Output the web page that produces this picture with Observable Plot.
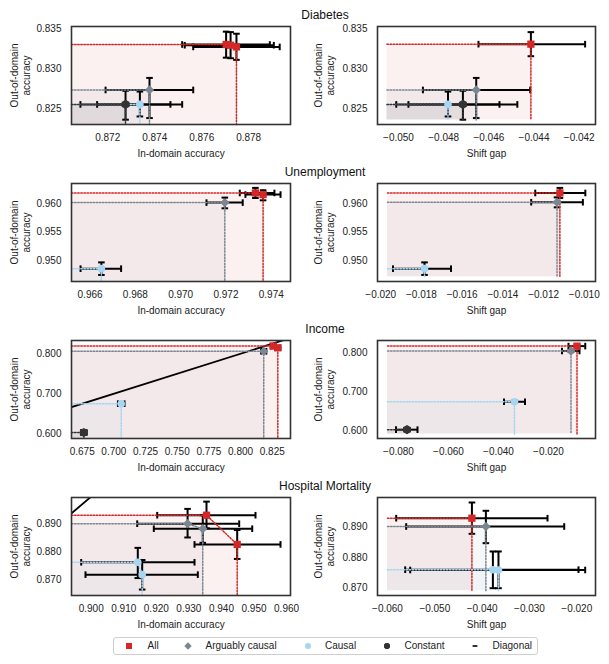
<!DOCTYPE html>
<html>
<head>
<meta charset="utf-8">
<script src="https://cdn.jsdelivr.net/npm/d3@7"></script>
<script src="https://cdn.jsdelivr.net/npm/@observablehq/plot@0.6"></script>
<style>
  html, body { margin: 0; background: #fff; font-family: "Liberation Sans", Arial, Helvetica, sans-serif; }
  #wrap { width: 609px; height: 664px; padding-top: 5px; box-sizing: border-box; }
  .title { width: 609px; box-sizing: border-box; padding-left: 41px; height: 20px; line-height: 20px;
           font-size: 12px; color: #111; text-align: center; }
  .row { display: flex; height: 137px; }
  .row svg { display: block; }
  .legend { position: relative; margin-left: 113px; margin-top: 4px; width: 425px; height: 18px; box-sizing: border-box;
            border: 1px solid #cfcfcf; border-radius: 3px; font-size: 10px; color: #222; }
  .legend .mk { position: absolute; top: 3px; width: 10px; height: 10px; }
  .legend .lb { position: absolute; top: 0; line-height: 16px; white-space: nowrap; }
</style>
</head>
<body>
<div id="wrap"></div>
<script>
// ---------- data ----------
const groups = ["All", "Arguably causal", "Causal", "Constant"];
const rowTitles = ["Diabetes", "Unemployment", "Income", "Hospital Mortality"];
const xLabels = ["In-domain accuracy", "Shift gap"];
const yLabel = "Out-of-domain\naccuracy";
const legendLabels = ["All", "Arguably causal", "Causal", "Constant", "Diagonal"];

// rows: [group, x, xLow, xHigh, y, yLow, yHigh]
const diabetesInDomain = [
  ["All", 0.87704, 0.87517, 0.87890, 0.83306, 0.83142, 0.83466],
  ["All", 0.87723, 0.87528, 0.87907, 0.83297, 0.83135, 0.83460],
  ["All", 0.87748, 0.87564, 0.87932, 0.83276, 0.83115, 0.83440],
  ["Arguably causal", 0.87378, 0.87191, 0.87564, 0.8274, 0.8239, 0.8289],
  ["Causal", 0.87337, 0.87155, 0.87517, 0.8256, 0.8241, 0.8272],
  ["Constant", 0.87276, 0.87084, 0.87467, 0.8256, 0.8237, 0.8273]
];
const diabetesShift = [
  ["All", -0.04414, -0.04646, -0.04174, 0.8331, 0.8316, 0.8346],
  ["Arguably causal", -0.04656, -0.04892, -0.04417, 0.8274, 0.8239, 0.8289],
  ["Causal", -0.04781, -0.05010, -0.04553, 0.8256, 0.8241, 0.8272],
  ["Constant", -0.04715, -0.04956, -0.04474, 0.8256, 0.8237, 0.8273]
];
const unemploymentInDomain = [
  ["All", 0.97330, 0.97261, 0.97414, 0.96187, 0.96099, 0.96276],
  ["All", 0.97364, 0.97286, 0.97441, 0.96159, 0.96058, 0.96235],
  ["Arguably causal", 0.97195, 0.97114, 0.97274, 0.96018, 0.95918, 0.96106],
  ["Causal", 0.96650, 0.96558, 0.96737, 0.9486, 0.9475, 0.9497]
];
const unemploymentShift = [
  ["All", -0.01120, -0.01241, -0.00995, 0.96187, 0.96099, 0.96276],
  ["Arguably causal", -0.01134, -0.01261, -0.01007, 0.96025, 0.95935, 0.96110],
  ["Causal", -0.01785, -0.01940, -0.01655, 0.9486, 0.9475, 0.9497]
];
const incomeInDomain = [
  ["All", 0.8258, 0.8238, 0.8278, 0.8190, 0.8170, 0.8210],
  ["All", 0.8294, 0.8274, 0.8314, 0.8148, 0.8128, 0.8168],
  ["Arguably causal", 0.8183, 0.8163, 0.8203, 0.806, 0.803, 0.809],
  ["Causal", 0.7058, 0.7032, 0.7084, 0.675, 0.672, 0.678],
  ["Constant", 0.6763, 0.6741, 0.6785, 0.603, 0.599, 0.607]
];
const incomeShift = [
  ["All", -0.0086, -0.0120, -0.0053, 0.8185, 0.8165, 0.8205],
  ["Arguably causal", -0.0110, -0.0146, -0.0076, 0.806, 0.803, 0.809],
  ["Causal", -0.0336, -0.0378, -0.0294, 0.675, 0.672, 0.678],
  ["Constant", -0.0766, -0.0810, -0.0724, 0.603, 0.599, 0.607]
];
const hospitalInDomain = [
  ["All", 0.93541, 0.92027, 0.95046, 0.89327, 0.88855, 0.89818],
  ["All", 0.94484, 0.93173, 0.95814, 0.88273, 0.87749, 0.88793],
  ["Arguably causal", 0.92960, 0.91413, 0.94545, 0.89022, 0.88524, 0.89556],
  ["Arguably causal", 0.93426, 0.91923, 0.94945, 0.88840, 0.88331, 0.89327],
  ["Causal", 0.91431, 0.89693, 0.93173, 0.87629, 0.87058, 0.88149],
  ["Causal", 0.91566, 0.89825, 0.93274, 0.87182, 0.86644, 0.87709]
];
const hospitalShift = [
  ["All", -0.04216, -0.05816, -0.02619, 0.89269, 0.88763, 0.89778],
  ["Arguably causal", -0.03921, -0.05605, -0.02266, 0.8900, 0.88459, 0.89509],
  ["Causal", -0.03773, -0.05626, -0.01964, 0.87600, 0.8700, 0.8819],
  ["Causal", -0.03655, -0.05520, -0.01823, 0.87590, 0.8700, 0.8819]
];

// tick labels
const diabetesIdTicks = [0.872, 0.874, 0.876, 0.878];
const diabetesShiftTicks = [-0.050, -0.048, -0.046, -0.044, -0.042];
const diabetesOodTicks = [0.825, 0.830, 0.835];
const unemploymentIdTicks = [0.966, 0.968, 0.970, 0.972, 0.974];
const unemploymentShiftTicks = [-0.020, -0.018, -0.016, -0.014, -0.012, -0.010];
const unemploymentOodTicks = [0.950, 0.955, 0.960];
const incomeIdTicks = [0.675, 0.700, 0.725, 0.750, 0.775, 0.800, 0.825];
const incomeShiftTicks = [-0.080, -0.060, -0.040, -0.020];
const incomeOodTicks = [0.600, 0.700, 0.800];
const hospitalIdTicks = [0.900, 0.910, 0.920, 0.930, 0.940, 0.950, 0.960];
const hospitalShiftTicks = [-0.060, -0.050, -0.040, -0.030, -0.020];
const hospitalOodTicks = [0.870, 0.880, 0.890];

// ---------- scale settings ----------
const panels = [
  { rows: diabetesInDomain, xDomain: [0.87046, 0.87978], yDomain: [0.8231, 0.8353], origin: null,
    xTicks: diabetesIdTicks, yTicks: diabetesOodTicks, xLabel: xLabels[0], diagonal: true },
  { rows: diabetesShift, xDomain: [-0.05093, -0.04128], yDomain: [0.8231, 0.8353], origin: [-0.05051, 0.82366],
    xTicks: diabetesShiftTicks, yTicks: diabetesOodTicks, xLabel: xLabels[1], diagonal: false },
  { rows: unemploymentInDomain, xDomain: [0.96518, 0.97485], yDomain: [0.94635, 0.96353], origin: null,
    xTicks: unemploymentIdTicks, yTicks: unemploymentOodTicks, xLabel: xLabels[0], diagonal: true },
  { rows: unemploymentShift, xDomain: [-0.02016, -0.00945], yDomain: [0.94635, 0.96353], origin: [-0.01967, 0.9472],
    xTicks: unemploymentShiftTicks, yTicks: unemploymentOodTicks, xLabel: xLabels[1], diagonal: false },
  { rows: incomeInDomain, xDomain: [0.66656, 0.83941], yDomain: [0.588, 0.833], origin: null,
    xTicks: incomeIdTicks, yTicks: incomeOodTicks, xLabel: xLabels[0], diagonal: true },
  { rows: incomeShift, xDomain: [-0.0884, -0.0012], yDomain: [0.5802, 0.833], origin: [-0.0844, 0.5917],
    xTicks: incomeShiftTicks, yTicks: incomeOodTicks, xLabel: xLabels[1], diagonal: false },
  { rows: hospitalInDomain, xDomain: [0.89395, 0.96121], yDomain: [0.86429, 0.89967], origin: null,
    xTicks: hospitalIdTicks, yTicks: hospitalOodTicks, xLabel: xLabels[0], diagonal: true },
  { rows: hospitalShift, xDomain: [-0.06211, -0.01605], yDomain: [0.86763, 0.8994], origin: [-0.0600, 0.86915],
    xTicks: hospitalShiftTicks, yTicks: hospitalOodTicks, xLabel: xLabels[1], diagonal: false }
];

// ---------- styles ----------
const groupColor = { "All": "#d62728", "Arguably causal": "#7a8792", "Causal": "#a6d6f2", "Constant": "#333333" };
const groupSymbol = { "All": "square", "Arguably causal": "diamond2", "Causal": "circle", "Constant": "hexagon" };
const groupR = { "All": 4.1, "Arguably causal": 4.2, "Causal": 3.8, "Constant": 4.0 };

const capV = { draw(ctx, size) { const r = Math.sqrt(size / Math.PI); ctx.moveTo(0, -r); ctx.lineTo(0, r); } };
const capH = { draw(ctx, size) { const r = Math.sqrt(size / Math.PI); ctx.moveTo(-r, 0); ctx.lineTo(r, 0); } };

function frontierOf(pts) {
  const sorted = pts.slice().sort((a, b) => b.x - a.x);
  const f = []; let maxY = -Infinity;
  for (const p of sorted) if (p.y > maxY) { f.push(p); maxY = p.y; }
  return f.reverse();
}

function makePanel(spec, side) {
  const data = spec.rows.map(([group, x, xlo, xhi, y, ylo, yhi]) => ({ group, x, xlo, xhi, y, ylo, yhi }));
  const [x0, y0] = spec.origin || [spec.xDomain[0], spec.yDomain[0]];
  const present = groups.filter(g => data.some(d => d.group === g));
  const areas = [], lines = [], dots = [];
  for (const g of present) {
    const pts = data.filter(d => d.group === g);
    const f = frontierOf(pts);
    const path = [{ x: x0, y: f[0].y, y1: y0 }, ...f.map(p => ({ x: p.x, y: p.y, y1: y0 })),
                  { x: f[f.length - 1].x, y: y0, y1: y0 }];
    areas.push(Plot.areaY(path, { x: "x", y1: "y1", y2: "y", fill: groupColor[g], fillOpacity: 0.065, curve: "linear" }));
    lines.push(Plot.line(path, { x: "x", y: "y", stroke: groupColor[g], strokeWidth: 1.5, strokeDasharray: "1.5,1.6", curve: "linear" }));
    dots.push(Plot.dot(pts, { x: "x", y: "y", symbol: groupSymbol[g], r: groupR[g], fill: groupColor[g], stroke: "none" }));
  }
  const marks = [...areas];
  if (spec.diagonal) {
    const lo = Math.min(spec.xDomain[0], spec.yDomain[0]);
    const hi = Math.max(spec.xDomain[1], spec.yDomain[1]);
    marks.push(Plot.line([{ x: lo, y: lo }, { x: hi, y: hi }], { x: "x", y: "y", stroke: "#000", strokeWidth: 1.8, clip: true }));
  }
  const eb = { stroke: "#000", strokeWidth: 2 };
  marks.push(
    Plot.ruleY(data, { x1: "xlo", x2: "xhi", y: "y", ...eb }),
    Plot.ruleX(data, { x: "x", y1: "ylo", y2: "yhi", ...eb }),
    Plot.dot(data, { x: "xlo", y: "y", symbol: capV, r: 3.3, fill: "none", ...eb }),
    Plot.dot(data, { x: "xhi", y: "y", symbol: capV, r: 3.3, fill: "none", ...eb }),
    Plot.dot(data, { x: "x", y: "ylo", symbol: capH, r: 3.3, fill: "none", ...eb }),
    Plot.dot(data, { x: "x", y: "yhi", symbol: capH, r: 3.3, fill: "none", ...eb }),
    ...lines,
    ...dots,
    Plot.frame({ stroke: "#333", strokeWidth: 1.6 }),
    Plot.text([spec.xLabel], { text: d => d, frameAnchor: "bottom", dy: 29, fontSize: 10, lineAnchor: "middle", fill: "#222" }),
    Plot.text([yLabel], { text: d => d, frameAnchor: "left", dx: side === "L" ? -51 : -53, rotate: -90,
                          textAnchor: "middle", lineAnchor: "middle", lineHeight: 1.2, fontSize: 10, fill: "#222" })
  );
  return Plot.plot({
    width: side === "L" ? 305 : 304,
    height: 137,
    marginTop: 1,
    marginBottom: 38,
    marginLeft: side === "L" ? 71 : 72,
    marginRight: side === "L" ? 15 : 14,
    style: { fontFamily: "'Liberation Sans', Arial, Helvetica, sans-serif", fontSize: "10px", color: "#222", background: "transparent", overflow: "visible" },
    x: { domain: spec.xDomain, ticks: spec.xTicks, tickFormat: d3.format(".3f"), tickSize: 0, tickPadding: 9, label: null },
    y: { domain: spec.yDomain, ticks: spec.yTicks, tickFormat: d3.format(".3f"), tickSize: 0, tickPadding: 10, label: null },
    marks
  });
}

const wrap = document.getElementById("wrap");
rowTitles.forEach((t, i) => {
  const title = document.createElement("div");
  title.className = "title";
  title.textContent = t;
  wrap.appendChild(title);
  const row = document.createElement("div");
  row.className = "row";
  row.appendChild(makePanel(panels[2 * i], "L"));
  row.appendChild(makePanel(panels[2 * i + 1], "R"));
  wrap.appendChild(row);
});

// legend
const legendMarkers = [
  '<rect x="2" y="2" width="6" height="6" fill="#d62728"/>',
  '<path d="M5 1.3 L8.7 5 L5 8.7 L1.3 5 Z" fill="#7a8792"/>',
  '<circle cx="5" cy="5" r="3" fill="#a6d6f2"/>',
  '<path d="M3.6 2 L6.4 2 L8 3.6 L8 6.4 L6.4 8 L3.6 8 L2 6.4 L2 3.6 Z" fill="#333"/>',
  '<rect x="2.6" y="4.2" width="4.8" height="1.6" fill="#000"/>'
];
const legendMarkerLeft = [9.7, 69.3, 188.7, 268, 356];
const legendLabelLeft = [33.5, 91.5, 211, 290.5, 378.5];
const legend = document.createElement("div");
legend.className = "legend";
legendLabels.forEach((label, i) => {
  const mk = document.createElement("div");
  mk.className = "mk";
  mk.style.left = legendMarkerLeft[i] + "px";
  mk.innerHTML = `<svg width="10" height="10" viewBox="0 0 10 10">${legendMarkers[i]}</svg>`;
  legend.appendChild(mk);
  const lb = document.createElement("span");
  lb.className = "lb";
  lb.style.left = legendLabelLeft[i] + "px";
  lb.textContent = label;
  legend.appendChild(lb);
});
wrap.appendChild(legend);
</script>
</body>
</html>
